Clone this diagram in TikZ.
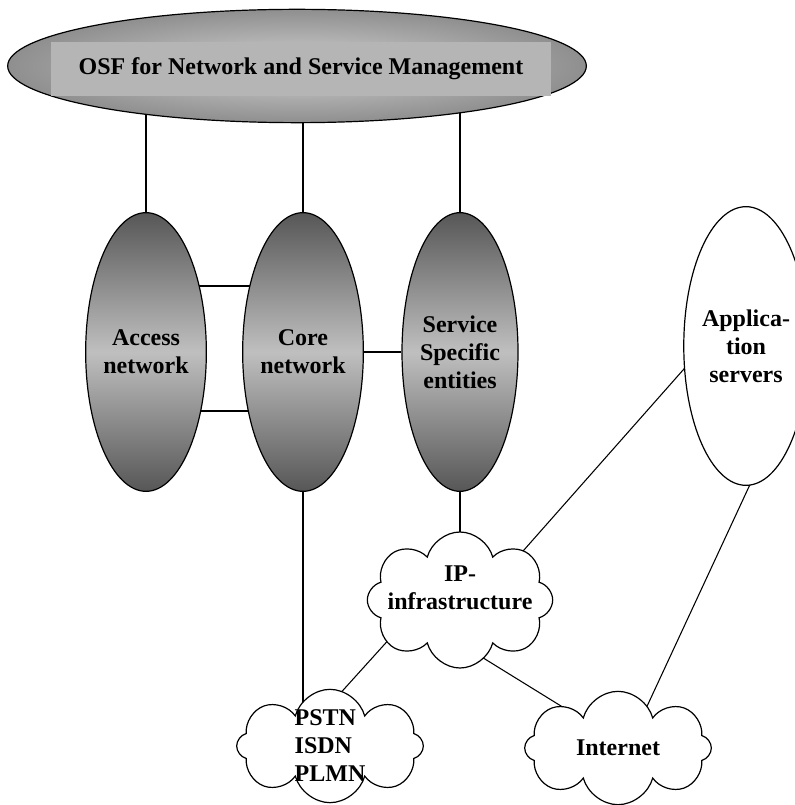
\documentclass[tikz,border=0pt]{standalone}
\usepackage{fontspec}
\setmainfont{Liberation Serif}
\usetikzlibrary{shapes.geometric}
\usetikzlibrary{shapes.symbols}
\usetikzlibrary{backgrounds}

\pgfdeclareradialshading{osfshade}{\pgfpoint{0bp}{0bp}}{color(0bp)=(black!18); color(50bp)=(black!70); color(60bp)=(black!70)}

\begin{document}
\begin{tikzpicture}[x=0.75pt, y=-0.75pt,
    every node/.style={font=\bfseries\fontsize{18}{21}\selectfont, align=center, inner sep=0pt},
    grayoval/.style={ellipse, draw, line width=0.9pt, minimum width=87pt, minimum height=209pt,
        top color=black!66, bottom color=black!66, middle color=black!25},
    netcloud/.style={cloud, cloud puffs=8, shape border rotate=22.5, draw, line width=0.9pt, fill=white,
        minimum width=140pt, minimum height=85pt},
    link/.style={line width=0.8pt}]
\useasboundingbox (0,0) rectangle (794,805);

% Management layer
\node[ellipse, draw, line width=0.9pt, minimum width=434pt, minimum height=85pt, shading=osfshade] (osf) at (297,66) {};
\node[fill=black!29, minimum width=375pt, minimum height=40.5pt] (osfbar) at (301,69) {OSF for Network and Service Management};

% Network entities
\node[grayoval] (acc) at (146,352) {Access\\network};
\node[grayoval] (core) at (303,352) {Core\\network};
\node[grayoval] (sse) at (460,352) {Service\\Specific\\entities};
\node[ellipse, draw, fill=white, line width=0.9pt, minimum width=90pt, minimum height=209pt] (app) at (746,346) {Applica-\\tion\\servers};

% Clouds
\node[netcloud, minimum width=139pt, minimum height=102pt,
    label={[align=center, yshift=9pt]center:IP-\\infrastructure}] (ip) at (460,600) {};
\node[netcloud, label={[align=left]center:PSTN\\ISDN\\PLMN}] (pstn) at (330,746) {};
\node[netcloud, label={center:Internet}] (inet) at (618,748) {};

% Connections
\begin{scope}[on background layer]
\draw[link] (acc.north) -- (acc.north |- osf.center);
\draw[link] (core.north) -- (core.north |- osf.center);
\draw[link] (sse.north) -- (sse.north |- osf.center);
\draw[link] ([yshift=49.5pt]acc.center) -- ([yshift=49.5pt]core.center);
\draw[link] ([yshift=-44.25pt]acc.center) -- ([yshift=-44.25pt]core.center);
\draw[link] (core) -- (sse);
\draw[link] (core.south) -- (core.south |- pstn.center);
\draw[link] (sse.south) -- (sse.south |- ip.center);
\draw[link] ([shift={(18,2)}]ip.center) -- ([shift={(-17,-28)}]app.center);
\draw[link] ([shift={(-49,15)}]ip.center) -- ([shift={(-22,-17)}]pstn.center);
\draw[link] ([shift={(-1,43)}]ip.center) -- ([shift={(-23,-21)}]inet.center);
\draw[link] ([shift={(33,76)}]app.center) -- ([shift={(5,10)}]inet.center);
\end{scope}
\end{tikzpicture}
\end{document}
